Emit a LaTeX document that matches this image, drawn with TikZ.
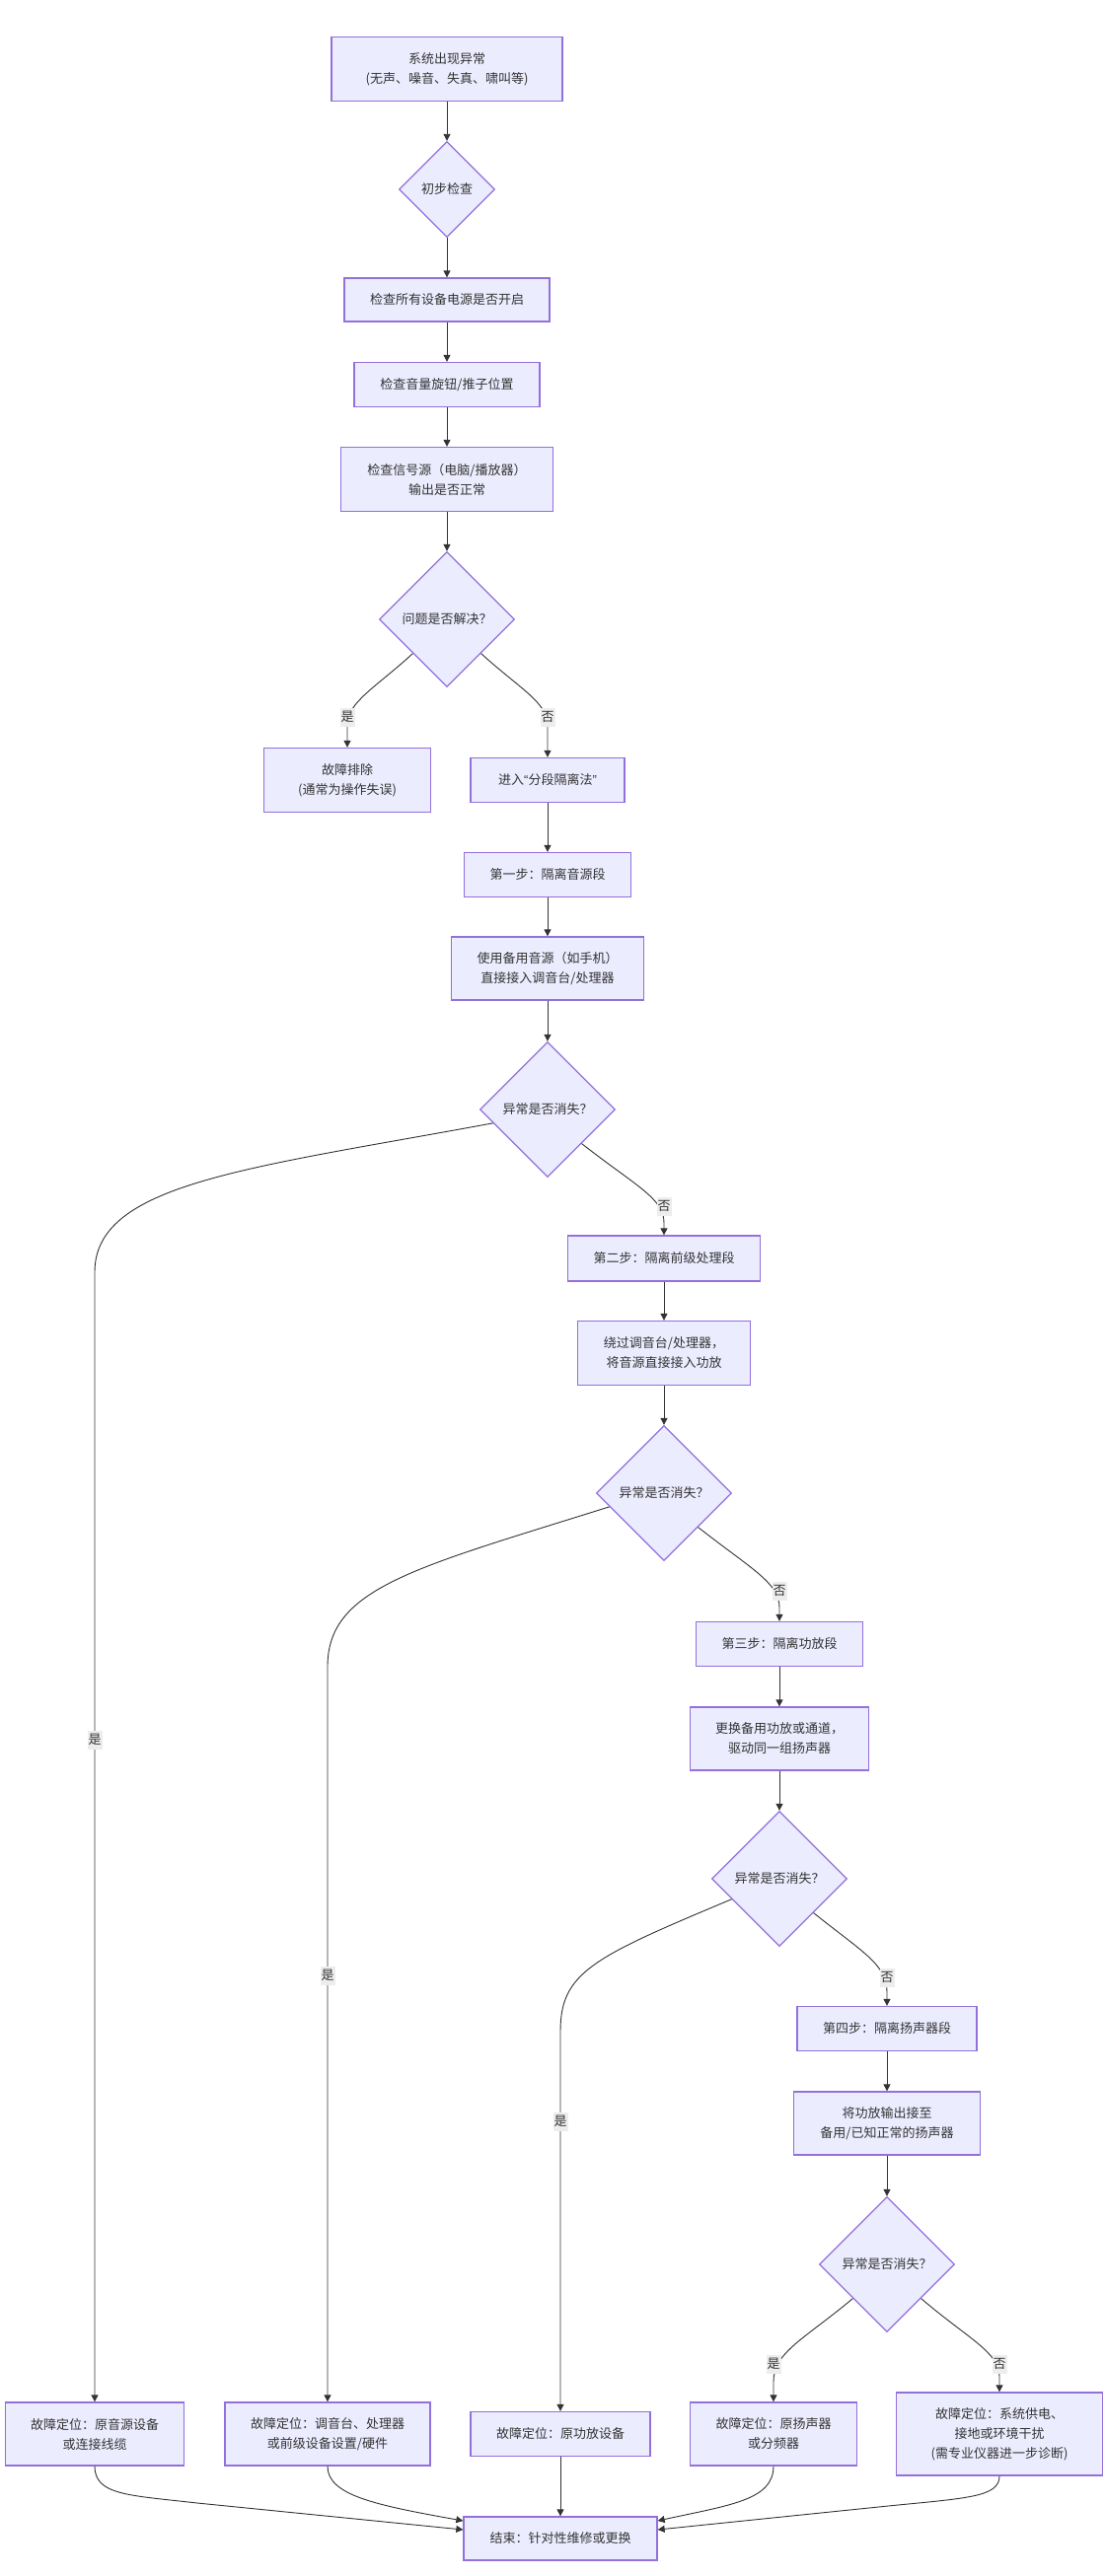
\documentclass[tikz,border=0pt]{standalone}
\usepackage{fontspec}
\setmainfont{Noto Sans CJK SC}
\newfontfamily\quotefont{Liberation Sans}
\usetikzlibrary{shapes.geometric,arrows.meta,calc}
\definecolor{boxfill}{HTML}{ECECFF}
\definecolor{boxline}{HTML}{9370DB}
\definecolor{txt}{HTML}{333333}
\definecolor{lblbg}{HTML}{EDEDED}
\begin{document}
\begin{tikzpicture}[x=1pt,y=-1pt,
  every node/.style={font=\fontsize{13}{20}\selectfont, text=txt},
  box/.style={draw=boxline, line width=1.3pt, fill=boxfill, rectangle, inner sep=0pt, align=center},
  dia/.style={draw=boxline, line width=1.3pt, fill=boxfill, diamond, aspect=1, inner sep=0pt, minimum width=137pt, minimum height=137pt},
  conn/.style={draw=txt, line width=0.9pt, -{Triangle[length=7pt,width=7pt]}},
  lbl/.style={fill=lblbg, inner xsep=1pt, inner ysep=0pt, minimum height=19pt}]
\fill[white] (0,0) rectangle (1119,2612);
\useasboundingbox (0,0) rectangle (1119,2612);

% nodes
\node[box, minimum width=234pt, minimum height=65pt] (n1) at (453,70) {系统出现异常\\(无声、噪音、失真、啸叫等)};
\node[dia, minimum width=97pt, minimum height=97pt] (d0) at (453,192) {初步检查};
\node[box, minimum width=208pt, minimum height=44pt] (n2) at (453,304) {检查所有设备电源是否开启};
\node[box, minimum width=188pt, minimum height=45pt] (n3) at (453,390) {检查音量旋钮/推子位置};
\node[box, minimum width=215pt, minimum height=65pt] (n4) at (453,486) {检查信号源（电脑/播放器）\\输出是否正常};
\node[dia] (d1) at (453,628) {问题是否解决？};
\node[box, minimum width=169pt, minimum height=65pt] (n5) at (352,791) {故障排除\\(通常为操作失误)};
\node[box, minimum width=156pt, minimum height=45pt] (n6) at (555,791) {进入{\quotefont “}分段隔离法{\quotefont ”}};
\node[box, minimum width=169pt, minimum height=45pt] (n7) at (555,887) {第一步：隔离音源段};
\node[box, minimum width=195pt, minimum height=64pt] (n8) at (555,982) {使用备用音源（如手机）\\直接接入调音台/处理器};
\node[dia] (d2) at (555,1125) {异常是否消失？};
\node[box, minimum width=195pt, minimum height=46pt] (n9) at (673,1276) {第二步：隔离前级处理段};
\node[box, minimum width=175pt, minimum height=65pt] (n10) at (673,1372) {绕过调音台/处理器，\\将音源直接接入功放};
\node[dia] (d3) at (673,1514) {异常是否消失？};
\node[box, minimum width=169pt, minimum height=45pt] (n11) at (790,1667) {第三步：隔离功放段};
\node[box, minimum width=181pt, minimum height=64pt] (n12) at (790,1763) {更换备用功放或通道，\\驱动同一组扬声器};
\node[dia] (d4) at (790,1905) {异常是否消失？};
\node[box, minimum width=182pt, minimum height=45pt] (n13) at (899,2057) {第四步：隔离扬声器段};
\node[box, minimum width=189pt, minimum height=64pt] (n14) at (899,2153) {将功放输出接至\\备用/已知正常的扬声器};
\node[dia] (d5) at (899,2296) {异常是否消失？};
\node[box, minimum width=181pt, minimum height=64pt] (n15) at (96,2468) {故障定位：原音源设备\\或连接线缆};
\node[box, minimum width=208pt, minimum height=64pt] (n16) at (332,2468) {故障定位：调音台、处理器\\或前级设备设置/硬件};
\node[box, minimum width=182pt, minimum height=45pt] (n17) at (568,2468) {故障定位：原功放设备};
\node[box, minimum width=169pt, minimum height=64pt] (n18) at (784,2468) {故障定位：原扬声器\\或分频器};
\node[box, minimum width=209pt, minimum height=84pt] (n19) at (1013,2468) {故障定位：系统供电、\\接地或环境干扰\\(需专业仪器进一步诊断)};
\node[box, minimum width=196pt, minimum height=44pt] (n20) at (568,2574) {结束：针对性维修或更换};

% straight connectors
\draw[conn] (n1.south) -- (d0.north);
\draw[conn] (d0.south) -- (n2.north);
\draw[conn] (n2.south) -- (n3.north);
\draw[conn] (n3.south) -- (n4.north);
\draw[conn] (n4.south) -- (d1.north);
\draw[conn] (n6.south) -- (n7.north);
\draw[conn] (n7.south) -- (n8.north);
\draw[conn] (n8.south) -- (d2.north);
\draw[conn] (n9.south) -- (n10.north);
\draw[conn] (n10.south) -- (d3.north);
\draw[conn] (n11.south) -- (n12.north);
\draw[conn] (n12.south) -- (d4.north);
\draw[conn] (n13.south) -- (n14.north);
\draw[conn] (n14.south) -- (d5.north);
\draw[conn] (n17.south) -- (n20.north);

% decision d1
\draw[conn] (d1.south west) .. controls (381,697) and (352,712) .. (352,735) -- (n5.north)
  node[lbl] at (352,727) {是};
\draw[conn] (d1.south east) .. controls (525,697) and (555,712) .. (555,735) -- (n6.north)
  node[lbl] at (555,727) {否};

% decision d2
\draw[conn] ($(d2.west)!0.2!(d2.south)$) .. controls (250,1185) and (96,1200) .. (96,1290) -- (n15.north)
  node[lbl] at (96,1764) {是};
\draw[conn] (d2.south east) .. controls (645,1203) and (673,1215) .. (673,1240) -- (n9.north)
  node[lbl] at (673,1223) {否};

% decision d3
\draw[conn] ($(d3.west)!0.2!(d3.south)$) .. controls (420,1590) and (332,1610) .. (332,1690) -- (n16.north)
  node[lbl] at (332,2003) {是};
\draw[conn] (d3.south east) .. controls (763,1592) and (790,1605) .. (790,1630) -- (n11.north)
  node[lbl] at (790,1613) {否};

% decision d4
\draw[conn] ($(d4.west)!0.3!(d4.south)$) .. controls (600,1985) and (568,2000) .. (568,2060) -- (n17.north)
  node[lbl] at (568,2151) {是};
\draw[conn] (d4.south east) .. controls (875,1980) and (899,1992) .. (899,2020) -- (n13.north)
  node[lbl] at (899,2005) {否};

% decision d5
\draw[conn] (d5.south west) .. controls (815,2372) and (784,2385) .. (784,2415) -- (n18.north)
  node[lbl] at (784,2397) {是};
\draw[conn] (d5.south east) .. controls (982,2372) and (1013,2385) .. (1013,2410) -- (n19.north)
  node[lbl] at (1013,2397) {否};

% to end
\draw[conn] (n15.south) .. controls (96,2530) and (130,2530) .. (200,2538) -- ([yshift=9pt]n20.west);
\draw[conn] (n16.south) .. controls (332,2530) and (380,2540) .. ([yshift=18pt]n20.west);
\draw[conn] (n18.south) .. controls (784,2535) and (740,2540) .. ([yshift=18pt]n20.east);
\draw[conn] (n19.south) .. controls (1013,2532) and (980,2533) .. (900,2541) -- ([yshift=9pt]n20.east);
\end{tikzpicture}
\end{document}
